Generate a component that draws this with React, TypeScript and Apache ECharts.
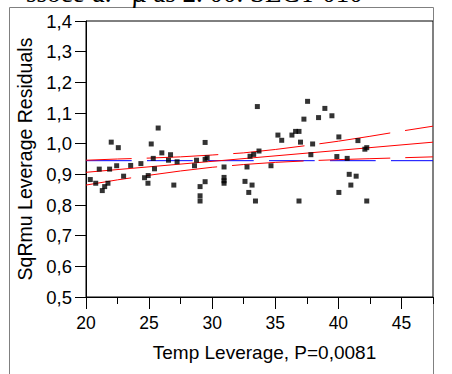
import { useEffect, useRef } from "react";
import * as echarts from "echarts";

// Leverage plot: temperature leverage vs. SqRmu leverage residuals
const tempLev = [
  20.34, 20.77, 21.05, 21.29, 21.48, 21.74, 21.87, 22.0, 22.43, 22.56,
  22.98, 23.54, 24.35, 24.64, 24.91, 24.93, 25.17, 25.33, 25.43, 25.72,
  26.01, 26.54, 26.7, 26.96, 27.22, 28.6, 28.76, 29.04, 29.04, 29.04,
  29.44, 29.44, 29.6, 29.44, 30.94, 30.94, 30.94, 30.94, 32.6, 32.76,
  32.9, 33.0, 33.16, 33.29, 33.43, 33.58, 33.71, 34.66, 35.21, 35.51,
  36.32, 36.61, 36.88, 36.88, 37.0, 37.27, 37.56, 37.82, 37.96, 38.43,
  38.93, 39.49, 39.88, 40.04, 40.04, 40.7, 40.86, 40.99, 41.41, 41.55,
  42.1, 42.25, 42.25,
];
const residLev = [
  0.883, 0.871, 0.917, 0.847, 0.86, 0.871, 0.917, 1.005, 0.928, 0.987,
  0.894, 0.929, 0.935, 0.889, 0.871, 0.896, 0.999, 0.952, 0.918, 1.051,
  0.97, 0.946, 0.964, 0.865, 0.941, 0.928, 0.946, 0.86, 0.83, 0.813,
  1.004, 0.949, 0.954, 0.876, 0.924, 0.89, 0.879, 0.871, 0.877, 0.924,
  0.841, 0.959, 0.865, 0.965, 0.813, 1.121, 0.976, 0.928, 1.028, 1.011,
  1.028, 1.04, 1.04, 0.813, 1.005, 1.08, 1.138, 0.964, 0.999, 1.085,
  1.115, 1.091, 0.958, 1.022, 0.841, 0.952, 0.9, 0.865, 0.894, 1.01,
  0.982, 0.987, 0.813,
];

// Fitted line and its confidence curves
const fitX = [20, 47.5];
const fitY = [0.9066, 1.0049];
const bandX = [20, 22.5, 25, 27.5, 30, 32.5, 35, 37.5, 40, 42.5, 45, 47.5];
const bandUpper = [0.946, 0.95, 0.953, 0.957, 0.963, 0.97, 0.981, 0.994, 1.008, 1.024, 1.041, 1.057];
const bandLower = [0.865, 0.882, 0.897, 0.911, 0.923, 0.932, 0.939, 0.944, 0.948, 0.951, 0.954, 0.957];
// Horizontal reference line (mean residual)
const meanX = [20, 47.5];
const meanY = [0.9445, 0.9445];

const xMajorTicks = [20, 25, 30, 35, 40, 45];
const topCaption = "ssoće u. ^µ as 2. 00. SECT 010";

const FONT = '"Liberation Sans", Arial, sans-serif';

export default function App() {
  const ref = useRef<HTMLDivElement>(null);

  useEffect(() => {
    if (!ref.current) return;
    const chart = echarts.init(ref.current, null, { renderer: "svg" });
    const pairs = (xs: number[], ys: number[]) => xs.map((x, i) => [x, ys[i]]);

    chart.setOption({
      animation: false,
      backgroundColor: "#ffffff",
      grid: {
        left: 86,
        top: 21,
        right: 19,
        bottom: 77,
        show: true,
        borderColor: "#000",
        borderWidth: 1,
        backgroundColor: "transparent",
      },
      xAxis: [
        {
          type: "value",
          min: 20,
          max: 47.5,
          interval: 2.5,
          position: "bottom",
          axisLine: { lineStyle: { color: "#000", width: 1 } },
          axisTick: { length: 7, lineStyle: { color: "#000", width: 1 } },
          axisLabel: {
            color: "#000",
            fontSize: 17.5,
            fontFamily: FONT,
            margin: 17,
            formatter: (v: number) => (v % 5 === 0 ? String(v) : ""),
          },
          splitLine: { show: false },
          name: "Temp Leverage, P=0,0081",
          nameLocation: "middle",
          nameGap: 46,
          nameTextStyle: { color: "#000", fontSize: 19, fontFamily: FONT, padding: [0, 0, 0, 10] },
        },
        {
          type: "value",
          min: 20,
          max: 47.5,
          interval: 2.5,
          position: "bottom",
          axisLine: { show: false },
          axisTick: { length: 12, customValues: xMajorTicks, lineStyle: { color: "#000", width: 1 } },
          axisLabel: { show: false },
          splitLine: { show: false },
        },
      ],
      yAxis: {
        type: "value",
        min: 0.5,
        max: 1.4,
        interval: 0.1,
        axisLine: { show: true, lineStyle: { color: "#000", width: 1 } },
        axisTick: { show: true, length: 11, lineStyle: { color: "#000", width: 1 } },
        axisLabel: {
          color: "#000",
          fontSize: 18.5,
          fontFamily: FONT,
          margin: 14,
          formatter: (v: number) => v.toFixed(1).replace(".", ","),
        },
        splitLine: { show: false },
        name: "SqRmu Leverage Residuals",
        nameLocation: "middle",
        nameGap: 44,
        nameTextStyle: { color: "#000", fontSize: 19.5, fontFamily: FONT },
      },
      graphic: [
        {
          type: "polyline",
          shape: { points: [[9.5, 400], [9.5, 7.5], [433.5, 7.5], [433.5, 400]] },
          style: { stroke: "#808080", lineWidth: 1, fill: null },
          silent: true,
        },
        {
          type: "text",
          x: 26,
          y: -7,
          style: {
            text: topCaption,
            fill: "#000",
            font: '27px "Liberation Serif", serif',
            align: "left",
            verticalAlign: "middle",
          },
          silent: true,
        },
      ],
      series: [
        {
          type: "line",
          data: pairs(meanX, meanY),
          showSymbol: false,
          lineStyle: { color: "#0000ff", width: 1, type: [45.7, 15.3], dashOffset: 0 },
          z: 2,
        },
        {
          type: "line",
          data: pairs(bandX, bandUpper),
          showSymbol: false,
          lineStyle: { color: "#ff0000", width: 1, type: [71.7, 15], dashOffset: 26 },
          z: 2,
        },
        {
          type: "line",
          data: pairs(bandX, bandLower),
          showSymbol: false,
          lineStyle: { color: "#ff0000", width: 1, type: [71.7, 15], dashOffset: 26 },
          z: 2,
        },
        {
          type: "line",
          data: pairs(fitX, fitY),
          showSymbol: false,
          lineStyle: { color: "#ff0000", width: 1, type: "solid" },
          z: 2,
        },
        {
          type: "scatter",
          data: pairs(tempLev, residLev),
          symbol: "rect",
          symbolSize: 5,
          itemStyle: { color: "#000" },
          z: 3,
        },
      ],
    });

    return () => chart.dispose();
  }, []);

  return (
    <div
      ref={ref}
      style={{ position: "absolute", left: 0, top: 0, width: 452, height: 374 }}
    />
  );
}
